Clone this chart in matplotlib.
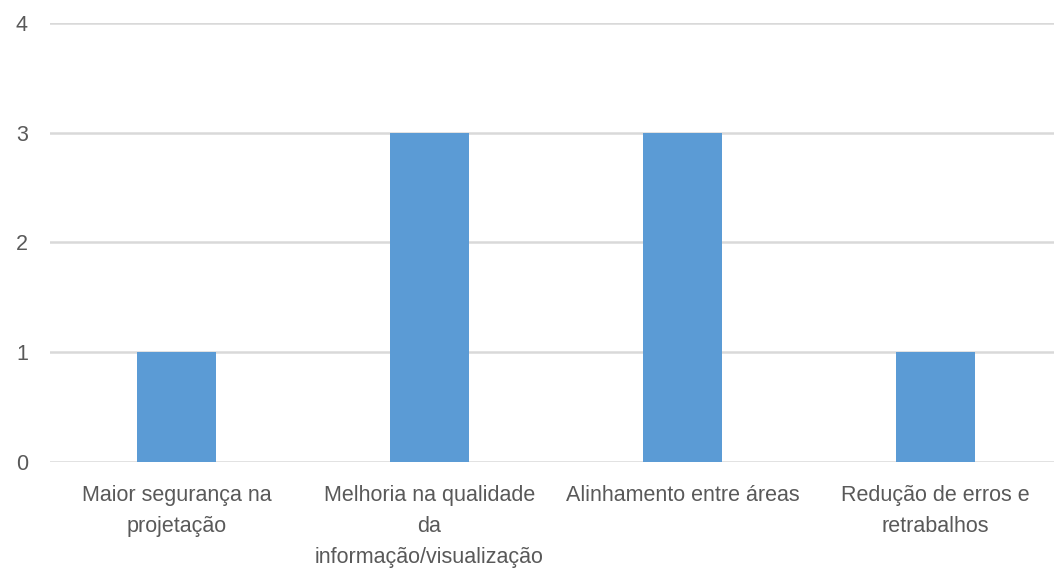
import matplotlib
matplotlib.use("Agg")
import matplotlib.pyplot as plt

categories = [
    "Maior segurança na\nprojetação",
    "Melhoria na qualidade\nda\ninformação/visualização",
    "Alinhamento entre áreas",
    "Redução de erros e\nretrabalhos",
]
values = [1, 3, 3, 1]
yticks = [0, 1, 2, 3, 4]

plt.rcParams['font.family'] = ['Liberation Sans', 'DejaVu Sans']
text_color = "#595959"

fig = plt.figure(figsize=(10.54, 5.70), dpi=100)
# plot area runs slightly past the right edge of the canvas
ax = fig.add_axes([50 / 1054, (570 - 461.7) / 570, 1012 / 1054, 438.8 / 570])

x = range(len(categories))
ax.bar(x, values, width=0.31, color="#5B9BD5", zorder=3)

ax.set_xlim(-0.5, len(categories) - 0.5)
ax.set_ylim(0, 4)
ax.set_yticks(yticks)
ax.yaxis.grid(True, color="#D9D9D9", linewidth=1.8, zorder=0)
ax.set_xticks(list(x))
ax.set_xticklabels(categories, linespacing=1.6)

for s in ax.spines.values():
    s.set_visible(False)
ax.tick_params(axis="both", length=0, labelsize=15.5, colors=text_color)
ax.tick_params(axis="y", pad=16)
ax.tick_params(axis="x", pad=17)

fig.savefig("out.png", dpi=100)
